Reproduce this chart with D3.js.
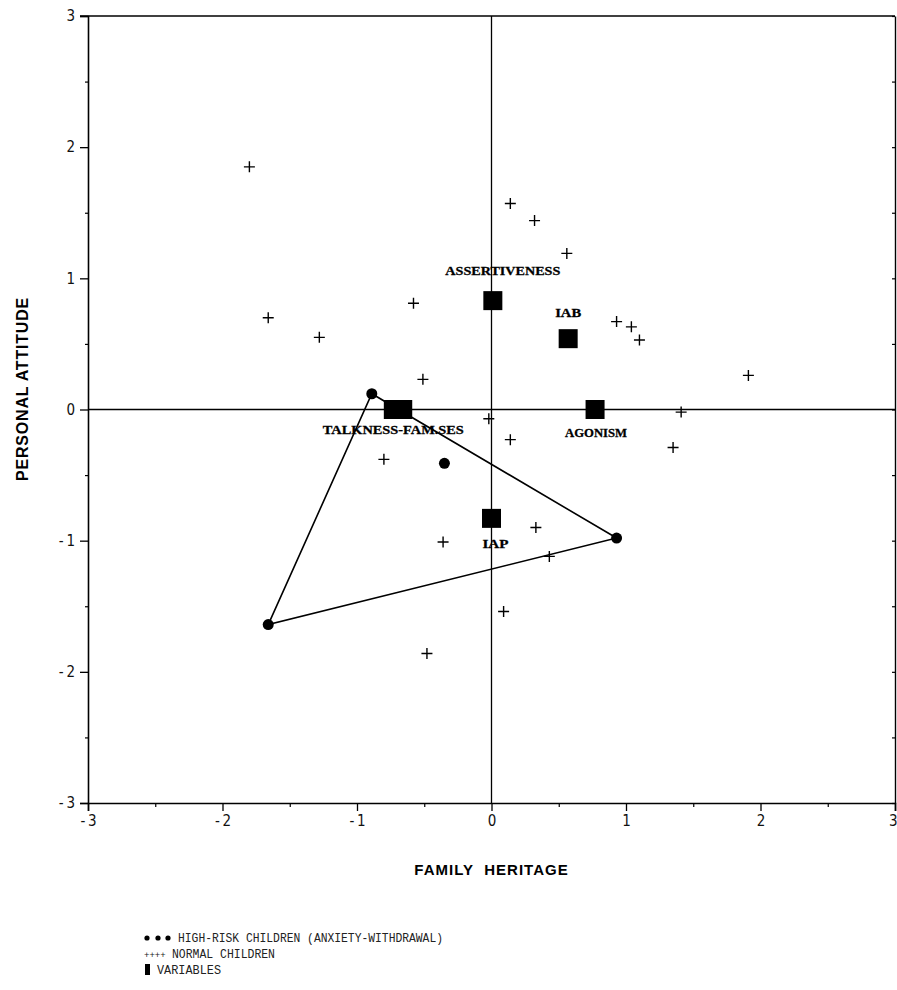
<!DOCTYPE html>
<html>
<head>
<meta charset="utf-8">
<script src="https://cdn.jsdelivr.net/npm/d3@7"></script>
<style>
  html, body { margin: 0; padding: 0; background: #fff; }
  svg { display: block; }
</style>
</head>
<body>
<svg id="chart" width="897" height="990"></svg>
<script>
// ---------- DATA ----------
const majorTicks = [-3, -2, -1, 0, 1, 2, 3];
const minorTicks = [-2.5, -1.5, -0.5, 0.5, 1.5, 2.5];

const normalX = [-1.80, -1.66, -1.28, -0.58, -0.51, 0.14, 0.32, 0.56, 0.93, 1.04, 1.10, 1.91, 1.41, 1.35, -0.02, 0.14, -0.80, -0.36, 0.33, 0.43, 0.09, -0.48];
const normalY = [1.85, 0.70, 0.55, 0.81, 0.23, 1.57, 1.44, 1.19, 0.67, 0.63, 0.53, 0.26, -0.02, -0.29, -0.07, -0.23, -0.38, -1.01, -0.90, -1.12, -1.54, -1.86];

const riskX = [-0.89, -0.35, 0.93, -1.66];
const riskY = [0.12, -0.41, -0.98, -1.64];

const varNames = ["ASSERTIVENESS", "IAB", "AGONISM", "TALKNESS", "FAM.SES", "IAP"];
const varX = [0.01, 0.57, 0.77, -0.73, -0.66, 0.00];
const varY = [0.83, 0.54, 0.00, 0.00, 0.00, -0.83];

const varLabels = ["ASSERTIVENESS", "IAB", "AGONISM", "TALKNESS-FAM.SES", "IAP"];

const xTitle = "FAMILY HERITAGE";
const yTitle = "PERSONAL ATTITUDE";
const legendItems = ["HIGH-RISK CHILDREN (ANXIETY-WITHDRAWAL)", "NORMAL CHILDREN", "VARIABLES"];

// ---------- DRAW ----------
const svg = d3.select("#chart");
const x = d3.scaleLinear().domain([-3, 3]).range([88, 895]);
const y = d3.scaleLinear().domain([-3, 3]).range([803, 16]);

const tickFmt = d => d < 0 ? "-\u2009" + Math.abs(d) : String(d);
const tickFont = "'Liberation Sans Narrow', 'DejaVu Sans Condensed', 'Liberation Sans', sans-serif";

function styleAxis(g) {
  g.selectAll("path.domain").attr("stroke", "#000").attr("stroke-width", 1.6);
  g.selectAll(".tick line").attr("stroke", "#000").attr("stroke-width", 1.3);
  g.selectAll("text").attr("fill", "#111").attr("font-family", tickFont)
    .attr("font-size", 15).attr("font-weight", 300);
}

// Left axis
const gl = svg.append("g").attr("transform", `translate(${x(-3)},0)`)
  .call(d3.axisLeft(y).tickValues(majorTicks).tickFormat(tickFmt).tickSize(8).tickPadding(5));
styleAxis(gl);
const glm = svg.append("g").attr("transform", `translate(${x(-3)},0)`)
  .call(d3.axisLeft(y).tickValues(minorTicks).tickFormat("").tickSize(3).tickSizeOuter(0));
glm.select("path.domain").remove();
glm.selectAll(".tick line").attr("stroke", "#000").attr("stroke-width", 1.2);

// Bottom axis
const gb = svg.append("g").attr("transform", `translate(0,${y(-3)})`)
  .call(d3.axisBottom(x).tickValues(majorTicks).tickFormat(tickFmt).tickSize(8).tickPadding(4));
styleAxis(gb);
gb.selectAll(".tick text").filter(d => d === 3).attr("text-anchor", "end").attr("dx", 2);
const gbm = svg.append("g").attr("transform", `translate(0,${y(-3)})`)
  .call(d3.axisBottom(x).tickValues(minorTicks).tickFormat("").tickSize(4).tickSizeOuter(0));
gbm.select("path.domain").remove();
gbm.selectAll(".tick line").attr("stroke", "#000").attr("stroke-width", 1.2);

// Top axis line
svg.append("line").attr("x1", x(-3) - 8).attr("x2", x(3)).attr("y1", y(3)).attr("y2", y(3))
  .attr("stroke", "#000").attr("stroke-width", 1.6);
// Right axis
const gr = svg.append("g").attr("transform", `translate(${x(3)},0)`)
  .call(d3.axisRight(y).tickValues(majorTicks.concat(minorTicks)).tickFormat("").tickSize(-3).tickSizeOuter(0));
gr.select("path.domain").attr("stroke", "#000").attr("stroke-width", 1.4);
gr.selectAll(".tick line").attr("stroke", "#000").attr("stroke-width", 1.2);

// Zero reference lines
svg.append("line").attr("x1", x(-3)).attr("x2", x(3)).attr("y1", y(0)).attr("y2", y(0))
  .attr("stroke", "#000").attr("stroke-width", 1.3);
svg.append("line").attr("x1", x(0)).attr("x2", x(0)).attr("y1", y(3)).attr("y2", y(-3))
  .attr("stroke", "#000").attr("stroke-width", 1.3);

// High-risk hull polygon
const riskPts = riskX.map((d, i) => [x(d), y(riskY[i])]);
const hull = d3.polygonHull(riskPts);
svg.append("path").attr("d", "M" + hull.join("L") + "Z")
  .attr("fill", "none").attr("stroke", "#000").attr("stroke-width", 1.6);

// Variables (squares)
const sq = 19;
svg.append("g").selectAll("rect").data(varNames).join("rect")
  .attr("x", (d, i) => x(varX[i]) - sq / 2)
  .attr("y", (d, i) => y(varY[i]) - sq / 2)
  .attr("width", sq).attr("height", sq).attr("fill", "#000");

// High-risk circles
svg.append("g").selectAll("circle").data(riskX).join("circle")
  .attr("cx", d => x(d)).attr("cy", (d, i) => y(riskY[i])).attr("r", 5.5).attr("fill", "#000");

// Normal children (+)
svg.append("g").selectAll("path").data(normalX).join("path")
  .attr("transform", (d, i) => `translate(${x(d)},${y(normalY[i])})`)
  .attr("d", "M-5.5,0H5.5M0,-5.5V5.5")
  .attr("stroke", "#000").attr("stroke-width", 1.4).attr("fill", "none");

// Variable labels (anchors: square index, dx, dy, width)
const labelAnchor = {
  "ASSERTIVENESS": [0, 10, -26, 115],
  "IAB": [1, 0, -22, 26],
  "AGONISM": [2, 1, 27, 62],
  "TALKNESS-FAM.SES": [3, 0, 24, 141],
  "IAP": [5, 4, 30, 26]
};
svg.append("g").selectAll("text").data(varLabels).join("text")
  .attr("x", d => x(varX[labelAnchor[d][0]]) + labelAnchor[d][1])
  .attr("y", d => y(varY[labelAnchor[d][0]]) + labelAnchor[d][2])
  .attr("text-anchor", "middle")
  .attr("textLength", d => labelAnchor[d][3])
  .attr("lengthAdjust", "spacingAndGlyphs")
  .attr("font-family", "'Liberation Serif', 'DejaVu Serif', serif")
  .attr("font-weight", "bold").attr("font-size", 13).attr("fill", "#000")
  .attr("stroke", "#000").attr("stroke-width", 0.3)
  .text(d => d);

// Axis titles
svg.append("text").attr("x", x(0)).attr("y", 875).attr("text-anchor", "middle")
  .attr("font-family", "'Liberation Sans', Arial, sans-serif").attr("font-weight", "bold")
  .attr("font-size", 15).attr("letter-spacing", 1).attr("fill", "#000")
  .text(xTitle.replace(" ", "\u00a0\u00a0"));
svg.append("text").attr("transform", `translate(28,389) rotate(-90)`).attr("text-anchor", "middle")
  .attr("font-family", "'Liberation Sans', Arial, sans-serif").attr("font-weight", "bold")
  .attr("font-size", 16).attr("letter-spacing", 0.8).attr("fill", "#000")
  .text(yTitle);

// Legend
const lg = svg.append("g").attr("font-family", "'Liberation Mono', 'DejaVu Sans Mono', monospace")
  .attr("font-size", 12).attr("fill", "#222");
[147, 158, 168].forEach(cx => lg.append("circle").attr("cx", cx).attr("cy", 938).attr("r", 2.6).attr("fill", "#000"));
lg.append("text").attr("x", 178).attr("y", 942).attr("textLength", 265).attr("lengthAdjust", "spacingAndGlyphs").text(legendItems[0]);
lg.append("text").attr("x", 144).attr("y", 958).attr("font-size", 9).text("++++");
lg.append("text").attr("x", 172).attr("y", 958).attr("textLength", 103).attr("lengthAdjust", "spacingAndGlyphs").text(legendItems[1]);
lg.append("rect").attr("x", 145).attr("y", 964).attr("width", 5).attr("height", 11).attr("fill", "#000");
lg.append("text").attr("x", 157).attr("y", 974).attr("textLength", 64).attr("lengthAdjust", "spacingAndGlyphs").text(legendItems[2]);
</script>
</body>
</html>
